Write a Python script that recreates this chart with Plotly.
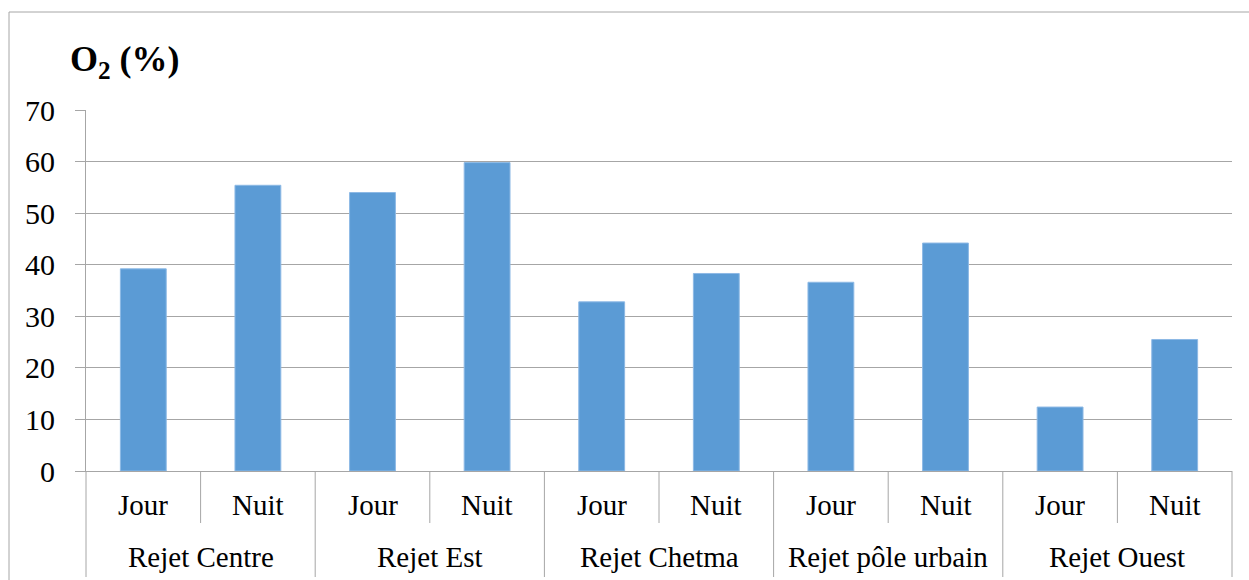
import plotly.graph_objects as go

groups = ["Rejet Centre", "Rejet Centre", "Rejet Est", "Rejet Est", "Rejet Chetma", "Rejet Chetma",
          "Rejet pôle urbain", "Rejet pôle urbain", "Rejet Ouest", "Rejet Ouest"]
periods = ["Jour", "Nuit"] * 5
group_names = ["Rejet Centre", "Rejet Est", "Rejet Chetma", "Rejet pôle urbain", "Rejet Ouest"]
o2_values = [39.2, 55.4, 54.0, 59.8, 32.8, 38.3, 36.6, 44.2, 12.4, 25.5]
y_ticks = [0, 10, 20, 30, 40, 50, 60, 70]

GRAY = "#A6A6A6"
FONT = "Liberation Serif, Times New Roman, Times, serif"
PLOT_H = 361.0

fig = go.Figure(go.Bar(
    x=[groups, periods], y=o2_values,
    marker=dict(color="#5B9BD5", line=dict(color="#8DB9E5", width=1)),
    width=0.4,
))

fig.update_layout(
    width=1249, height=580,
    margin=dict(l=86, r=17, t=110, b=109, autoexpand=False),
    paper_bgcolor="white", plot_bgcolor="white",
    showlegend=False,
    font=dict(family=FONT, size=29, color="black"),
)
fig.update_yaxes(
    range=[0, 70], tickvals=y_ticks, showgrid=True, gridcolor=GRAY, gridwidth=1,
    showline=True, linecolor=GRAY, linewidth=1,
    ticks="outside", ticklen=10, tickcolor=GRAY,
    tickfont=dict(family=FONT, size=30), ticklabelstandoff=14,
    zeroline=False, automargin=False,
)
fig.update_xaxes(
    type="multicategory", showline=True, linecolor=GRAY, linewidth=1,
    showticklabels=False, showdividers=False, ticks="", automargin=False,
)

n = len(periods)
# sub-category labels and separators
for i, p in enumerate(periods):
    fig.add_annotation(text=p, xref="x domain", yref="paper",
                       x=(i + 0.5) / n, y=-(505 - 471) / PLOT_H,
                       xanchor="center", yanchor="middle", showarrow=False,
                       font=dict(family=FONT, size=29, color="black"))
for i in range(1, n, 2):
    xf = i / n
    fig.add_shape(type="line", xref="x domain", yref="paper", x0=xf, x1=xf,
                  y0=0, y1=-52 / PLOT_H, line=dict(color=GRAY, width=1))
# group labels and dividers
for g, name in enumerate(group_names):
    fig.add_annotation(text=name, xref="x domain", yref="paper",
                       x=(2 * g + 1) / n, y=-(557 - 471) / PLOT_H,
                       xanchor="center", yanchor="middle", showarrow=False,
                       font=dict(family=FONT, size=29, color="black"))
for g in range(len(group_names) + 1):
    xf = 2 * g / n
    fig.add_shape(type="line", xref="x domain", yref="paper", x0=xf, x1=xf,
                  y0=0, y1=-106 / PLOT_H, line=dict(color=GRAY, width=1))

# outer border
fig.add_shape(type="rect", xref="paper", yref="paper",
              x0=(9 - 86) / 1146, x1=1.1, y0=-0.5, y1=1 + (110 - 12) / PLOT_H,
              line=dict(color=GRAY, width=1), fillcolor="rgba(0,0,0,0)", layer="below")

fig.add_annotation(
    text="<b>O<sub>2</sub> (%)</b>", xref="paper", yref="paper",
    x=(68 - 86) / 1146, y=1 + (110 - 62) / PLOT_H, xanchor="left", yanchor="middle",
    showarrow=False, font=dict(family=FONT, size=36, color="black"),
)

fig.write_html("out.html", config={"displayModeBar": False},
               post_script="document.body.style.margin='0';")
